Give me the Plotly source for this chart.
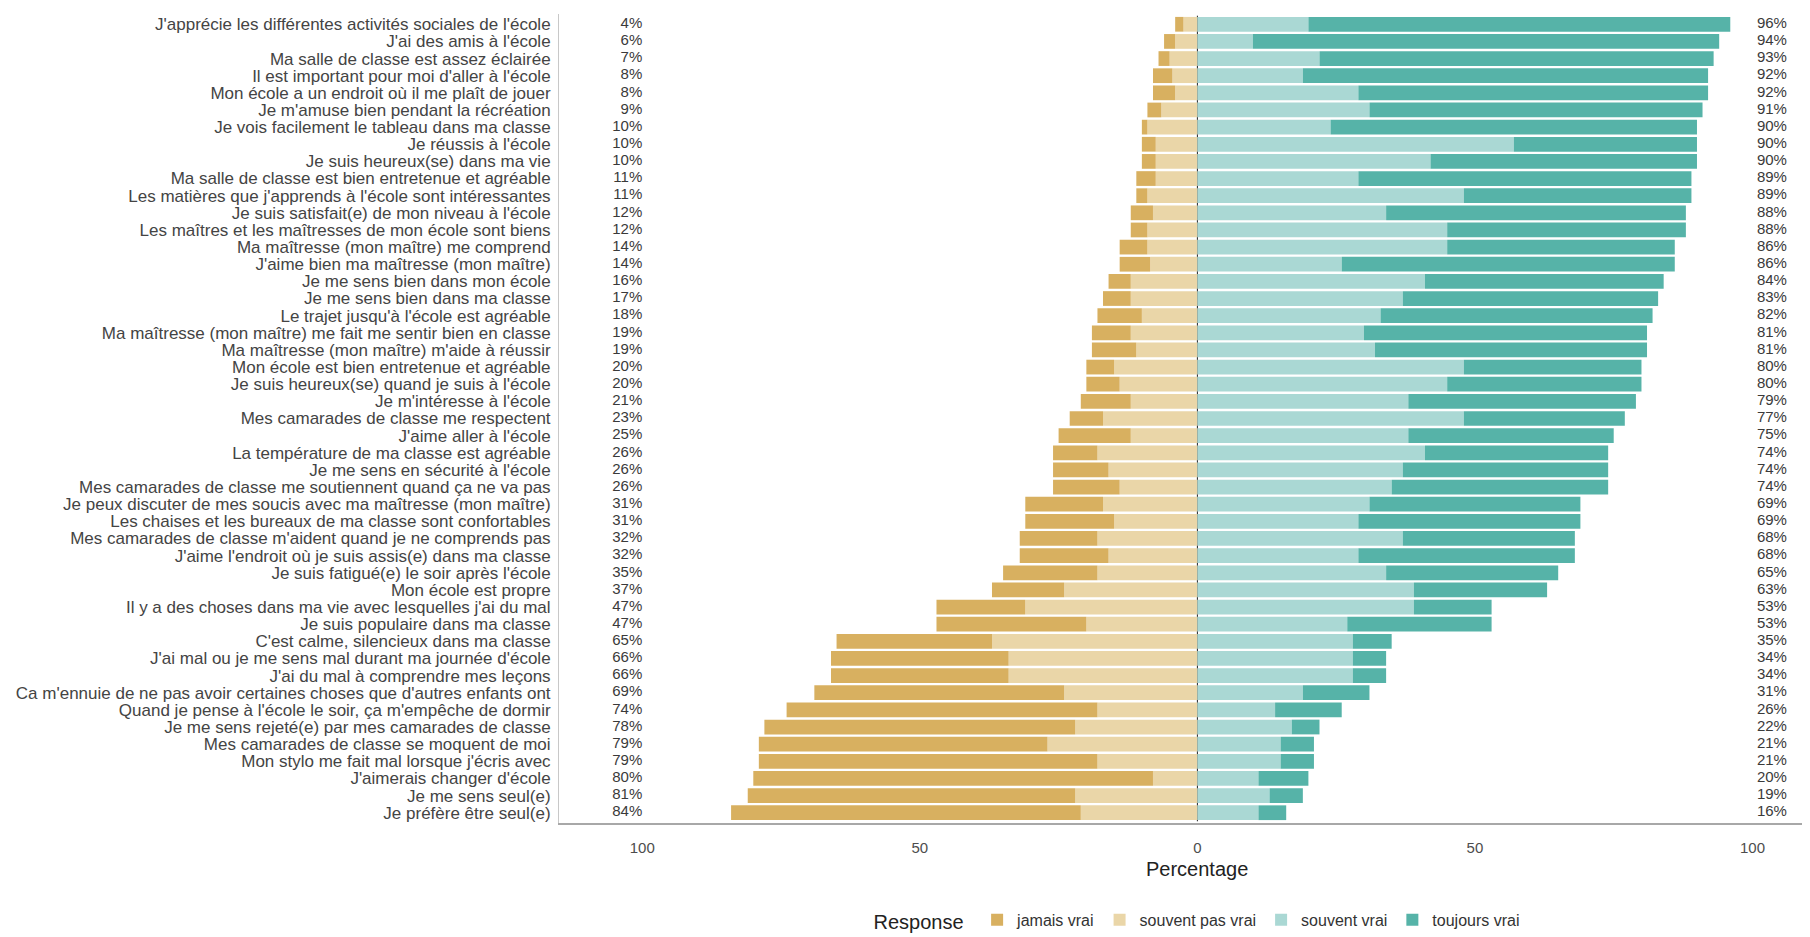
import plotly.graph_objects as go

items = [
    "J'apprécie les différentes activités sociales de l'école",
    "J'ai des amis à l'école",
    "Ma salle de classe est assez éclairée",
    "Il est important pour moi d'aller à l'école",
    "Mon école a un endroit où il me plaît de jouer",
    "Je m'amuse bien pendant la récréation",
    "Je vois facilement le tableau dans ma classe",
    "Je réussis à l'école",
    "Je suis heureux(se) dans ma vie",
    "Ma salle de classe est bien entretenue et agréable",
    "Les matières que j'apprends à l'école sont intéressantes",
    "Je suis satisfait(e) de mon niveau à l'école",
    "Les maîtres et les maîtresses de mon école sont biens",
    "Ma maîtresse (mon maître) me comprend",
    "J'aime bien ma maîtresse (mon maître)",
    "Je me sens bien dans mon école",
    "Je me sens bien dans ma classe",
    "Le trajet jusqu'à l'école est agréable",
    "Ma maîtresse (mon maître) me fait me sentir bien en classe",
    "Ma maîtresse (mon maître) m'aide à réussir",
    "Mon école est bien entretenue et agréable",
    "Je suis heureux(se) quand je suis à l'école",
    "Je m'intéresse à l'école",
    "Mes camarades de classe me respectent",
    "J'aime aller à l'école",
    "La température de ma classe est agréable",
    "Je me sens en sécurité à l'école",
    "Mes camarades de classe me soutiennent quand ça ne va pas",
    "Je peux discuter de mes soucis avec ma maîtresse (mon maître)",
    "Les chaises et les bureaux de ma classe sont confortables",
    "Mes camarades de classe m'aident quand je ne comprends pas",
    "J'aime l'endroit où je suis assis(e) dans ma classe",
    "Je suis fatigué(e) le soir après l'école",
    "Mon école est propre",
    "Il y a des choses dans ma vie avec lesquelles j'ai du mal",
    "Je suis populaire dans ma classe",
    "C'est calme, silencieux dans ma classe",
    "J'ai mal ou je me sens mal durant ma journée d'école",
    "J'ai du mal à comprendre mes leçons",
    "Ca m'ennuie de ne pas avoir certaines choses que d'autres enfants ont",
    "Quand je pense à l'école le soir, ça m'empêche de dormir",
    "Je me sens rejeté(e) par mes camarades de classe",
    "Mes camarades de classe se moquent de moi",
    "Mon stylo me fait mal lorsque j'écris avec",
    "J'aimerais changer d'école",
    "Je me sens seul(e)",
    "Je préfère être seul(e)",
]

jamais_vrai = [1.5, 2, 2, 3.5, 4, 2.5, 1, 2.5, 2.5, 3.5, 2, 4, 3, 5, 5.5, 4, 5, 8, 7, 8,
               5, 6, 9, 6, 13, 8, 10, 12, 14, 16, 14, 16, 17, 13, 16, 27, 28, 32, 32, 45,
               56, 56, 52, 61, 72, 59, 63]
souvent_pas_vrai = [2.5, 4, 5, 4.5, 4, 6.5, 9, 7.5, 7.5, 7.5, 9, 8, 9, 9, 8.5, 12, 12, 10, 12, 11,
                    15, 14, 12, 17, 12, 18, 16, 14, 17, 15, 18, 16, 18, 24, 31, 20, 37, 34, 34, 24,
                    18, 22, 27, 18, 8, 22, 21]
souvent_vrai = [20, 10, 22, 19, 29, 31, 24, 57, 42, 29, 48, 34, 45, 45, 26, 41, 37, 33, 30, 32,
                48, 45, 38, 48, 38, 41, 37, 35, 31, 29, 37, 29, 34, 39, 39, 27, 28, 28, 28, 19,
                14, 17, 15, 15, 11, 13, 11]
toujours_vrai = [76, 84, 71, 73, 63, 60, 66, 33, 48, 60, 41, 54, 43, 41, 60, 43, 46, 49, 51, 49,
                 32, 35, 41, 29, 37, 33, 37, 39, 38, 40, 31, 39, 31, 24, 14, 26, 7, 6, 6, 12,
                 12, 5, 6, 6, 9, 6, 5]

tick_vals = [-100, -50, 0, 50, 100]
tick_text = ["100", "50", "0", "50", "100"]

colors = {
    "jamais vrai": "#D8B060",
    "souvent pas vrai": "#EAD6A8",
    "souvent vrai": "#AAD8D4",
    "toujours vrai": "#56B3A8",
}

FONT = "Liberation Sans, Arial"

ypos = list(range(len(items)))
neg_sp = [-v for v in souvent_pas_vrai]
neg_j = [-v for v in jamais_vrai]
left_tot = [a + b for a, b in zip(jamais_vrai, souvent_pas_vrai)]
right_tot = [a + b for a, b in zip(souvent_vrai, toujours_vrai)]

fig = go.Figure()
bw = 0.86
fig.add_trace(go.Bar(y=ypos, x=neg_sp, orientation="h", name="souvent pas vrai",
                     marker=dict(color=colors["souvent pas vrai"], line_width=0), width=bw, legendrank=2))
fig.add_trace(go.Bar(y=ypos, x=neg_j, orientation="h", name="jamais vrai",
                     marker=dict(color=colors["jamais vrai"], line_width=0), width=bw, legendrank=1))
fig.add_trace(go.Bar(y=ypos, x=souvent_vrai, orientation="h", name="souvent vrai",
                     marker=dict(color=colors["souvent vrai"], line_width=0), width=bw, legendrank=3))
fig.add_trace(go.Bar(y=ypos, x=toujours_vrai, orientation="h", name="toujours vrai",
                     marker=dict(color=colors["toujours vrai"], line_width=0), width=bw, legendrank=4))

fig.add_trace(go.Scatter(y=ypos, x=[-100] * len(items), mode="text",
                         text=[f"{round(v)}%" for v in left_tot], textposition="middle left",
                         textfont=dict(size=15, color="#3a3a3a", family=FONT),
                         showlegend=False, hoverinfo="skip"))
fig.add_trace(go.Scatter(y=ypos, x=[100.8] * len(items), mode="text",
                         text=[f"{round(v)}%" for v in right_tot], textposition="middle right",
                         textfont=dict(size=15, color="#3a3a3a", family=FONT),
                         showlegend=False, hoverinfo="skip"))

fig.add_shape(type="line", x0=0, x1=0, y0=-0.5, y1=len(items) - 0.5, xref="x", yref="y",
              line=dict(color="#222222", width=1), layer="below")

fig.add_annotation(x=0, xref="x", y=-0.057, yref="paper", text="Percentage", showarrow=False,
                   xanchor="center", yanchor="middle", font=dict(size=20, color="#222222", family=FONT))

fig.update_layout(
    width=1810, height=937,
    barmode="relative",
    paper_bgcolor="white", plot_bgcolor="white",
    margin=dict(l=551, r=10, t=6, b=112),
    font=dict(family=FONT, color="#4d4d4d"),
    showlegend=True,
    legend=dict(orientation="h", x=0.512, xanchor="center", y=-0.121, yanchor="middle",
                title=dict(text="Response ", font=dict(size=20, color="#222222")),
                font=dict(size=16, color="#333333"), itemwidth=30, traceorder="normal"),
)
fig.update_xaxes(range=[-115, 110], tickvals=tick_vals, ticktext=tick_text,
                 showgrid=False, zeroline=False, showline=True, linecolor="#a8a8a8", linewidth=2,
                 ticks="", ticklabelstandoff=10, tickfont=dict(size=15, color="#4d4d4d"))
fig.update_yaxes(range=[len(items) - 1 + 0.6, -0.6], tickvals=ypos, ticktext=items,
                 showgrid=False, zeroline=False, showline=True, linecolor="#c8c8c8", linewidth=1,
                 ticks="", ticklabelstandoff=4, tickfont=dict(size=17, color="#444444"))

fig.write_html("out.html")
